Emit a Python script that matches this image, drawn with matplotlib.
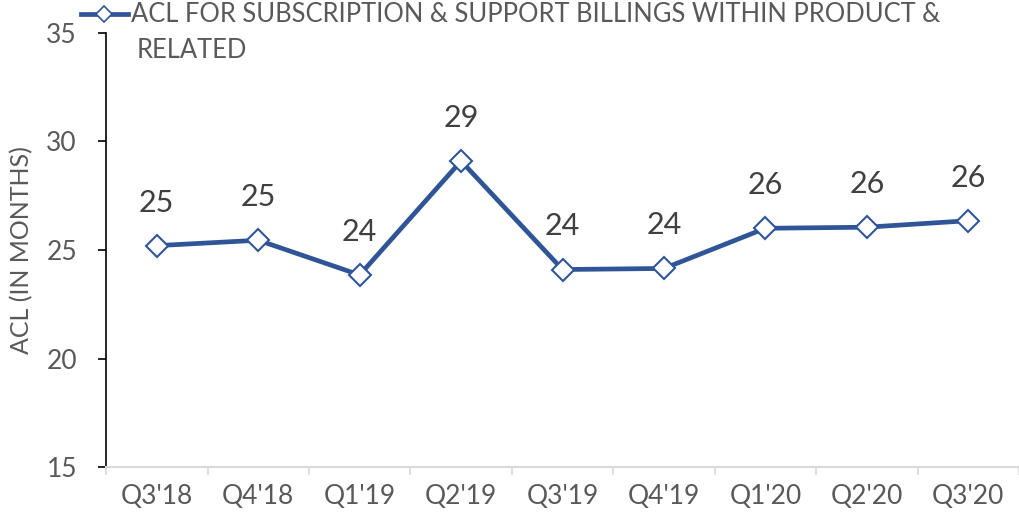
import matplotlib.pyplot as plt
from matplotlib.lines import Line2D

# quarters and ACL values (months)
quarters = ["Q3'18", "Q4'18", "Q1'19", "Q2'19", "Q3'19", "Q4'19", "Q1'20", "Q2'20", "Q3'20"]
acl = [25.2, 25.45, 23.85, 29.1, 24.1, 24.15, 26.0, 26.05, 26.35]
series_label = ["ACL FOR SUBSCRIPTION & SUPPORT BILLINGS WITHIN PRODUCT &", "RELATED"]

blue = "#2F5597"
gray = "#595959"
plt.rcParams['font.family'] = ['Lato', 'DejaVu Sans']

fig = plt.figure(figsize=(10.2, 5.23), dpi=100)
ax = fig.add_axes([0.104, 0.107, 0.895, 0.830])

x = range(len(quarters))
ax.plot(x, acl, color=blue, lw=3.4, marker="D", markersize=11.5,
        markerfacecolor="white", markeredgecolor=blue, markeredgewidth=1.5, zorder=3)

for i, v in enumerate(acl):
    ax.annotate(f"{v:.0f}", (i, v), xytext=(0, 31), textcoords="offset points",
                ha="center", va="center", fontsize=22, color="#404040")

ax.set_xlim(-0.5, len(quarters) - 0.5)
ax.set_ylim(15, 35)
ax.set_yticks([15, 20, 25, 30, 35])
ax.set_xticks(x)
ax.set_xticklabels(quarters)

ax.spines["top"].set_visible(False)
ax.spines["right"].set_visible(False)
ax.spines["left"].set_color("black")
ax.spines["left"].set_linewidth(1.2)
ax.spines["bottom"].set_color("#D9D9D9")
ax.spines["bottom"].set_linewidth(1.5)

# category separators on the x-axis
ax.set_xticks([i - 0.5 for i in range(len(quarters) + 1)], minor=True)
ax.tick_params(axis="x", which="minor", length=6, color="#D9D9D9", width=1.2)
ax.tick_params(axis="x", which="major", length=0, pad=12, labelsize=19, labelcolor=gray)
ax.tick_params(axis="y", length=6, color="black", width=1.2, labelsize=19,
               labelcolor=gray, pad=15)

ax.set_ylabel("ACL (IN MONTHS)", fontsize=18, color=gray, labelpad=9)

# legend: handle sits on the first line, label wraps onto a second line
handle = Line2D([], [], color=blue, lw=3.4, marker="D", markersize=8,
                markerfacecolor="white", markeredgecolor=blue, markeredgewidth=1.2)
leg = fig.legend([handle], [series_label[0]], loc="center left",
                 bbox_to_anchor=(0.079, 1 - 15 / 523), frameon=False, fontsize=18.4,
                 labelcolor=gray, handlelength=1.85, handletextpad=0.12, borderaxespad=0,
                 borderpad=0)
fig.text(137 / 1020, 1 - 51 / 523, series_label[1], fontsize=18.4, color=gray,
         ha="left", va="center")

fig.savefig("out.png", dpi=100)
